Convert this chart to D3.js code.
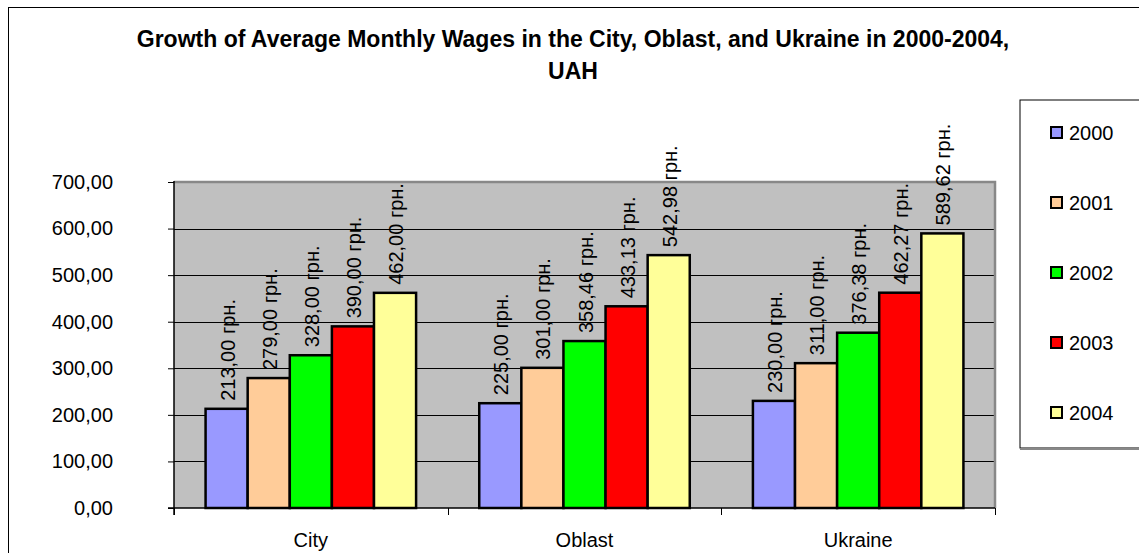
<!DOCTYPE html>
<html lang="en">
<head>
<meta charset="UTF-8">
<title>Growth of Average Monthly Wages</title>
<script src="https://d3js.org/d3.v7.min.js"></script>
<style>
  body { margin: 0; background: #fff; }
  svg { font-family: "Liberation Sans", Arial, sans-serif; }
  .bar { stroke: #000; stroke-width: 2.5px; }
  .grid line { stroke: #000; stroke-width: 1px; }
</style>
</head>
<body>
<svg id="chart" width="1139" height="553"></svg>

<script>
    const categories = ["City", "Oblast", "Ukraine"];
    const years = ["2000", "2001", "2002", "2003", "2004"];
    const colors = ["#9999FF", "#FFCC99", "#00FF00", "#FF0000", "#FFFF99"];
    const values = {
        "City":    [213.00, 279.00, 328.00, 390.00, 462.00],
        "Oblast":  [225.00, 301.00, 358.46, 433.13, 542.98],
        "Ukraine": [230.00, 311.00, 376.38, 462.27, 589.62]
    };
    const yTicks = [0, 100, 200, 300, 400, 500, 600, 700];
    const titleLines = [
        "Growth of Average Monthly Wages in the City, Oblast, and Ukraine in 2000-2004,",
        "UAH"
    ];

    const svg = d3.select("#chart");
    const uaLocale = d3.formatLocale({decimal: ",", thousands: " ", grouping: [3], currency: ["", ""]});
    const fmt = uaLocale.format(".2f");

    const plot = {left: 174, right: 995, top: 182, bottom: 508};

    // outer frame
    svg.append("rect")
        .attr("x", 8.5).attr("y", 7.5)
        .attr("width", 1150).attr("height", 560)
        .attr("fill", "#fff").attr("stroke", "#000");

    // title
    svg.append("text")
        .attr("x", 573).attr("y", 47)
        .attr("text-anchor", "middle")
        .style("font-weight", "bold").style("font-size", "23px")
        .selectAll("tspan").data(titleLines).join("tspan")
        .attr("x", 573).attr("dy", (d, i) => i === 0 ? 0 : 32)
        .text(d => d);

    const x0 = d3.scaleBand().domain(categories).range([plot.left, plot.right]).paddingInner(0).paddingOuter(0);
    const x1 = d3.scaleBand().domain(years).range([0, x0.bandwidth()]).paddingInner(0).paddingOuter(0.75);
    const y = d3.scaleLinear().domain([0, 700]).range([plot.bottom, plot.top]);

    // plot background
    svg.append("rect")
        .attr("x", plot.left).attr("y", plot.top)
        .attr("width", plot.right - plot.left).attr("height", plot.bottom - plot.top)
        .attr("fill", "#C0C0C0");

    // gridlines
    svg.append("g").attr("class", "grid")
        .selectAll("line").data(yTicks.filter(d => d > 0 && d < 700)).join("line")
        .attr("x1", plot.left).attr("x2", plot.right)
        .attr("y1", d => Math.round(y(d)) + 0.5).attr("y2", d => Math.round(y(d)) + 0.5);

    // plot border (top and right, gray)
    svg.append("path")
        .attr("d", `M${plot.left},${plot.top} H${plot.right} V${plot.bottom}`)
        .attr("fill", "none").attr("stroke", "#888").attr("stroke-width", 2.5);

    // bars
    const groups = svg.append("g").selectAll("g").data(categories).join("g")
        .attr("transform", d => `translate(${x0(d)},0)`);

    groups.selectAll("rect")
        .data(c => values[c].map((v, i) => ({year: years[i], value: v, color: colors[i]})))
        .join("rect")
        .attr("class", "bar")
        .attr("x", d => x1(d.year))
        .attr("y", d => y(d.value))
        .attr("width", x1.bandwidth())
        .attr("height", d => y(0) - y(d.value))
        .attr("fill", d => d.color);

    // value labels
    groups.selectAll("text")
        .data(c => values[c].map((v, i) => ({year: years[i], value: v})))
        .join("text")
        .attr("transform", d => `translate(${x1(d.year) + x1.bandwidth() / 2},${y(d.value) - 8}) rotate(-90)`)
        .attr("dy", "0.4em")
        .style("font-size", "20px")
        .text(d => fmt(d.value) + " грн.");

    // y axis
    const yAxis = svg.append("g")
        .attr("transform", `translate(${plot.left},0)`)
        .call(d3.axisLeft(y).tickValues(yTicks).tickSize(6).tickPadding(55).tickFormat(fmt));
    yAxis.select(".domain").remove();
    yAxis.selectAll(".tick line").attr("stroke", "#000");
    yAxis.selectAll("text").style("font-size", "20px").attr("fill", "#000")
        .style("font-family", "'Liberation Sans', Arial, sans-serif");
    svg.append("line")
        .attr("x1", plot.left).attr("x2", plot.left)
        .attr("y1", plot.top - 1).attr("y2", plot.bottom + 7)
        .attr("stroke", "#000").attr("stroke-width", 1.5);

    // x axis
    svg.append("line")
        .attr("x1", plot.left - 6).attr("x2", plot.right)
        .attr("y1", plot.bottom).attr("y2", plot.bottom)
        .attr("stroke", "#000").attr("stroke-width", 1.5);
    const bounds = categories.map(c => x0(c)).concat([plot.right]);
    svg.append("g").selectAll("line").data(bounds).join("line")
        .attr("x1", d => Math.round(d) + 0.5).attr("x2", d => Math.round(d) + 0.5)
        .attr("y1", plot.bottom).attr("y2", plot.bottom + 7)
        .attr("stroke", "#000");
    svg.append("g").selectAll("text").data(categories).join("text")
        .attr("x", d => x0(d) + x0.bandwidth() / 2)
        .attr("y", 547)
        .attr("text-anchor", "middle")
        .style("font-size", "20px")
        .text(d => d);

    // legend
    const lg = svg.append("g");
    lg.append("rect")
        .attr("x", 1020).attr("y", 100).attr("width", 130).attr("height", 348)
        .attr("fill", "#fff").attr("stroke", "#000");
    lg.append("line")
        .attr("x1", 1020).attr("x2", 1150).attr("y1", 449).attr("y2", 449)
        .attr("stroke", "#888").attr("stroke-width", 2);
    const items = lg.selectAll("g.item").data(years).join("g")
        .attr("class", "item")
        .attr("transform", (d, i) => `translate(1051,${133 + i * 70})`);
    items.append("rect")
        .attr("x", 0).attr("y", -6).attr("width", 11).attr("height", 11)
        .attr("fill", (d, i) => colors[i]).attr("stroke", "#000").attr("stroke-width", 2);
    items.append("text")
        .attr("x", 18).attr("dy", "0.35em")
        .style("font-size", "20px")
        .text(d => d);
</script>
</body>
</html>
